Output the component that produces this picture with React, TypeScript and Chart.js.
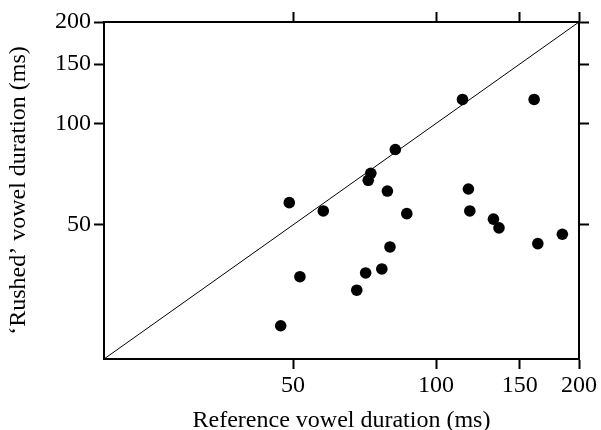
import React, { useEffect, useRef } from "react";
import { Chart, registerables } from "chart.js";

Chart.register(...registerables);

const referenceDurations = [49.1, 57.9, 51.7, 47.1, 68.1, 71.1, 76.9, 80.0, 86.8, 79.0, 72.0, 72.9, 82.1, 113.7, 160.9, 117.0, 117.8, 132.1, 135.7, 163.8, 184.5];
const rushedDurations = [58.2, 55.0, 35.1, 25.1, 32.0, 36.0, 37.0, 43.0, 54.0, 63.0, 67.8, 71.1, 83.7, 117.8, 117.8, 63.9, 55.0, 52.0, 49.0, 44.0, 46.9];
const identityLine = [20, 200];
const xTickValues = [50, 100, 150, 200];
const yTickValues = [50, 100, 150, 200];
const axisMin = 20;
const axisMax = 200;

const FONT = "'Liberation Serif', 'Times New Roman', serif";

export default function App() {
  const ref = useRef<HTMLCanvasElement | null>(null);

  useEffect(() => {
    document.body.style.margin = "0";
    const canvas = ref.current;
    if (!canvas) return;
    Chart.defaults.color = "#000";
    const tickFont = { family: FONT, size: 24 };
    const titleFont = { family: FONT, size: 24, lineHeight: 1.0 };
    const setTicks = (vals: number[]) => (scale: any) => {
      scale.ticks = vals.map((v) => ({ value: v }));
    };
    const grid = {
      drawOnChartArea: false,
      drawTicks: true,
      tickLength: 10,
      tickWidth: 2,
      color: "#000",
    };
    const border = { display: true, color: "#000", width: 2 };

    const chart = new Chart(canvas, {
      type: "scatter",
      data: {
        datasets: [
          {
            label: "points",
            data: referenceDurations.map((x, i) => ({ x, y: rushedDurations[i] })),
            backgroundColor: "#000",
            borderWidth: 0,
            pointRadius: 5.8,
            order: 0,
          },
          {
            type: "line",
            label: "identity",
            data: identityLine.map((v) => ({ x: v, y: v })),
            borderColor: "#000",
            borderWidth: 1,
            pointRadius: 0,
            fill: false,
            order: 1,
          } as any,
        ],
      },
      options: {
        animation: false,
        responsive: true,
        maintainAspectRatio: false,
        layout: { padding: 0 },
        plugins: { legend: { display: false }, tooltip: { enabled: false } },
        scales: {
          x: {
            type: "logarithmic",
            position: "bottom",
            min: axisMin,
            max: axisMax,
            afterBuildTicks: setTicks(xTickValues),
            afterFit: (s: any) => {
              s.height = 71;
            },
            ticks: {
              font: tickFont,
              color: "#000",
              padding: 2,
              maxRotation: 0,
              autoSkip: false,
              callback: (v: any) => String(v),
            },
            grid,
            border,
            title: {
              display: true,
              text: "Reference vowel duration (ms)",
              font: titleFont,
              color: "#000",
              padding: { top: 0, bottom: -3 },
            },
          },
          x2: {
            type: "logarithmic",
            position: "top",
            min: axisMin,
            max: axisMax,
            afterBuildTicks: setTicks(xTickValues),
            afterFit: (s: any) => {
              s.height = 22;
            },
            ticks: { display: false },
            grid,
            border,
          },
          y: {
            type: "logarithmic",
            position: "left",
            min: axisMin,
            max: axisMax,
            afterBuildTicks: setTicks(yTickValues),
            afterFit: (s: any) => {
              s.width = 104;
            },
            ticks: {
              font: tickFont,
              color: "#000",
              padding: 3,
              autoSkip: false,
              callback: (v: any) => String(v),
            },
            grid,
            border,
            title: {
              display: true,
              text: "\u2018Rushed\u2019 vowel duration (ms)",
              font: { family: FONT, size: 24 },
              color: "#000",
              padding: { top: 4, bottom: 0 },
            },
          },
          y2: {
            type: "logarithmic",
            position: "right",
            min: axisMin,
            max: axisMax,
            afterBuildTicks: setTicks(yTickValues),
            afterFit: (s: any) => {
              s.width = 22;
            },
            ticks: { display: false },
            grid,
            border,
          },
        },
      } as any,
    });
    return () => chart.destroy();
  }, []);

  return (
    <div style={{ position: "fixed", left: 0, top: 0, width: 601, height: 430, background: "#fff" }}>
      <canvas ref={ref} />
    </div>
  );
}
